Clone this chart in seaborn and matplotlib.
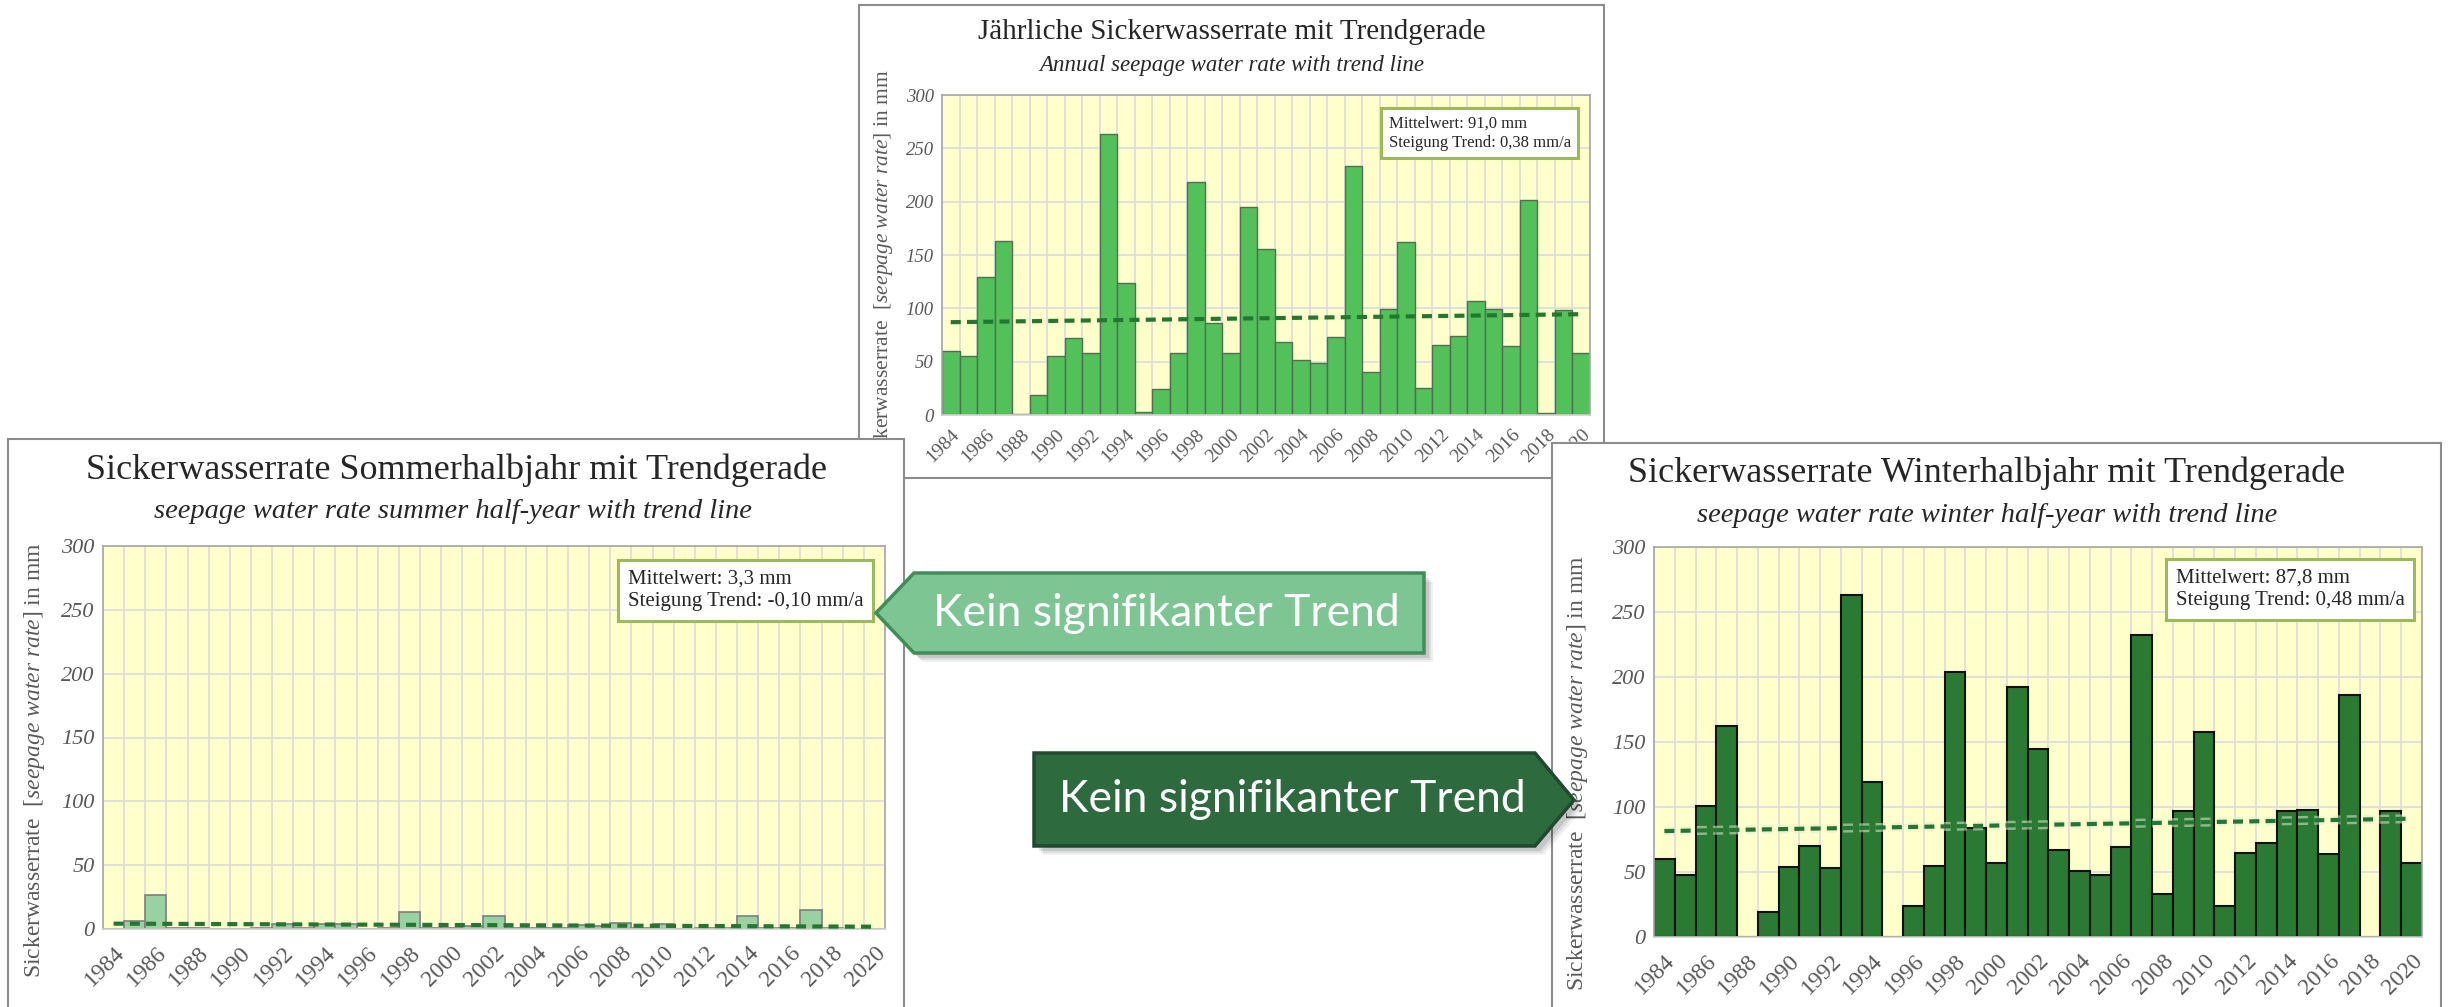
import numpy as np
import matplotlib
matplotlib.use('Agg')
import matplotlib.pyplot as plt
import matplotlib.patheffects as pe
from matplotlib.patches import Polygon
import seaborn as sns

# data (mm per year / half-year)
years = list(range(1984, 2021))

annual = [60, 55, 129, 163, 1, 19, 55, 72, 58, 263,
          124, 3, 24, 58, 218, 86, 58, 195, 156, 68,
          52, 49, 73, 233, 40, 99, 162, 25, 66, 74,
          107, 99, 65, 202, 2, 98, 58]
summer = [0, 6, 27, 0.5, 0.5, 0, 0, 1, 4, 0.5,
          4, 4, 0, 1, 13, 1, 1, 2.5, 10, 1,
          0.5, 0.5, 3, 2.5, 5, 1, 4, 0, 0.5, 1,
          10, 0.5, 0.5, 15, 1, 0, 0]
winter = [60, 48, 101, 162, 0, 19, 54, 70, 53, 263,
          119, 0, 24, 55, 204, 84, 57, 192, 145, 67,
          51, 48, 69, 232, 33, 97, 158, 24, 65, 72,
          97, 98, 64, 186, 0, 97, 57]

# trend line values at first and last year
trend_annual = [87, 94.5]
trend_summer = [4.2, 1.8]
trend_winter = [81.5, 91]

stats_annual = "Mittelwert: 91,0 mm\nSteigung Trend: 0,38 mm/a"
stats_summer = "Mittelwert: 3,3 mm\nSteigung Trend: -0,10 mm/a"
stats_winter = "Mittelwert: 87,8 mm\nSteigung Trend: 0,48 mm/a"

titles = ["Jährliche Sickerwasserrate mit Trendgerade",
          "Sickerwasserrate Sommerhalbjahr mit Trendgerade",
          "Sickerwasserrate Winterhalbjahr mit Trendgerade"]
subtitles = ["Annual seepage water rate with trend line",
             "seepage water rate summer half-year with trend line",
             "seepage water rate winter half-year with trend line"]
callout = "Kein signifikanter Trend"

sns.set_style('white')
plt.rcParams['font.family'] = ['Liberation Serif', 'DejaVu Serif']
plt.rcParams['mathtext.fontset'] = 'custom'
plt.rcParams['mathtext.rm'] = 'Liberation Serif'
plt.rcParams['mathtext.it'] = 'Liberation Serif:italic'

W, H = 2448, 1007
fig = plt.figure(figsize=(W / 100, H / 100), dpi=100)
fig.patch.set_facecolor('white')


def rect(x0, y0, x1, y1):
    return [x0 / W, 1 - y1 / H, (x1 - x0) / W, (y1 - y0) / H]


def panel(box, z):
    ax = fig.add_axes(rect(*box), zorder=z)
    ax.set_facecolor('white')
    ax.set_xticks([])
    ax.set_yticks([])
    for s in ax.spines.values():
        s.set_color('#8c8c8c')
        s.set_linewidth(1.5)
    return ax


def chart(pan, box, values, trend, color, edge, elw, stats, title, subtitle,
          tpos, spos, tfs, sfs, xfs, yfs, lfs, sbfs, label_xy, box_xy, glow=False):
    # titles belong to the panel so that later panels cover them
    pan.text(tpos[0] / W, 1 - tpos[1] / H, title, transform=fig.transFigure,
             ha='center', va='center', fontsize=tfs)
    pan.text(spos[0] / W, 1 - spos[1] / H, subtitle, transform=fig.transFigure,
             ha='center', va='center', fontsize=sfs, style='italic')

    ax = fig.add_axes(rect(*box), zorder=pan.get_zorder() + 1)
    ax.set_facecolor('#ffffcc')
    sns.barplot(x=years, y=values, ax=ax, color=color, saturation=1,
                width=1.0, edgecolor=edge, linewidth=elw)
    n = len(years)
    ax.plot([0, n - 1], trend, ls=(0, (2.4, 1.5)), color='#23782f', lw=3,
            solid_capstyle='butt', zorder=5,
            path_effects=[pe.Stroke(linewidth=6.5, foreground='#e4ead6', alpha=0.55),
                          pe.Normal()] if glow else None)
    ax.set_xlim(-0.5, n - 0.5)
    ax.set_ylim(0, 300)
    ax.set_yticks(range(0, 301, 50))
    ax.set_yticklabels([str(v) for v in range(0, 301, 50)], style='italic',
                       color='#595959', fontsize=yfs)
    ax.set_xticks(range(0, n, 2))
    ax.set_xticklabels([str(y) for y in years[::2]], rotation=45, ha='right',
                       rotation_mode='anchor', color='#595959', fontsize=xfs)
    ax.set_xticks(np.arange(-0.5, n, 1), minor=True)
    ax.tick_params(axis='x', which='major', length=0, pad=xfs * 0.55)
    ax.tick_params(axis='x', which='minor', length=7, color='#d9d9d9', width=1.2)
    ax.tick_params(axis='y', length=0, pad=6)
    ax.grid(axis='x', which='minor', color='#dcdcdc', lw=1.2)
    ax.grid(axis='y', which='major', color='#dcdcdc', lw=1.2)
    ax.set_axisbelow(True)
    for s in ax.spines.values():
        s.set_color('#a6a6a6')
        s.set_linewidth(1.2)
    ax.spines['bottom'].set_color('#d0d0d0')
    ax.set_xlabel('')
    ax.set_ylabel(r"Sickerwasserrate  [$\mathit{seepage\ water\ rate}$] in mm",
                  fontsize=lfs, color='#595959', va='center')
    ax.yaxis.set_label_coords(*label_xy)
    pad = 0.45 * sbfs
    ax.annotate(stats, xy=box_xy, xycoords='axes fraction',
                xytext=(-pad - 2, -pad - 2), textcoords='offset points',
                ha='right', va='top', multialignment='left', fontsize=sbfs,
                linespacing=1.3, zorder=6,
                bbox=dict(boxstyle='square,pad=0.45', fc='white', ec='#9bbb59', lw=2.2))
    return ax


# top chart (annual)
p_top = panel((859, 5, 1604, 478), 1)
chart(p_top, (942, 95, 1590, 415), annual, trend_annual, '#52c15a', '#4f6f53', 1.0,
      stats_annual, titles[0], subtitles[0], (1232, 32), (1232, 65),
      21, 16.5, 14, 13.5, 15.5, 12, (-0.09, 0.46), (0.986, 0.969))

# left chart (summer half-year)
p_left = panel((8, 439, 904, 1015), 3)
chart(p_left, (103, 546, 885, 929), summer, trend_summer, '#98d2a0', '#7f7f7f', 1.2,
      stats_summer, titles[1], subtitles[1], (456, 470), (453, 512),
      26, 20.5, 17, 16, 17, 15, (-0.088, 0.44), (0.988, 0.971))

# right chart (winter half-year)
p_right = panel((1552, 443, 2441, 1015), 3)
chart(p_right, (1654, 547, 2422, 937), winter, trend_winter, '#2b7a34', '#111111', 1.5,
      stats_winter, titles[2], subtitles[2], (1987, 473), (1987, 515),
      26, 20.5, 17, 16, 17, 15, (-0.1, 0.42), (0.993, 0.977), glow=True)

# callout arrows on top of everything
ov = fig.add_axes([0, 0, 1, 1], zorder=10)
ov.set_xlim(0, W)
ov.set_ylim(H, 0)
ov.axis('off')


def arrow(pts, fc, ec, text, center):
    for d, a in [(9, 0.06), (7, 0.08), (5, 0.10)]:
        ov.add_patch(Polygon([(x + d, y + d) for x, y in pts], closed=True,
                             fc='black', ec='none', alpha=a))
    ov.add_patch(Polygon(pts, closed=True, fc=fc, ec=ec, lw=2.5))
    ov.text(center[0], center[1], text, ha='center', va='center', color='white',
            fontsize=32, family=['Lato', 'DejaVu Sans'])


arrow([(876, 613), (914, 573), (1424, 573), (1424, 653), (914, 653)],
      '#7dc592', '#3e8e55', callout, (1166, 613))
arrow([(1034, 753), (1535, 753), (1574, 800), (1535, 846), (1034, 846)],
      '#2d6a3e', '#1f4a2b', callout, (1292, 800))

fig.savefig('out.png', dpi=100)
